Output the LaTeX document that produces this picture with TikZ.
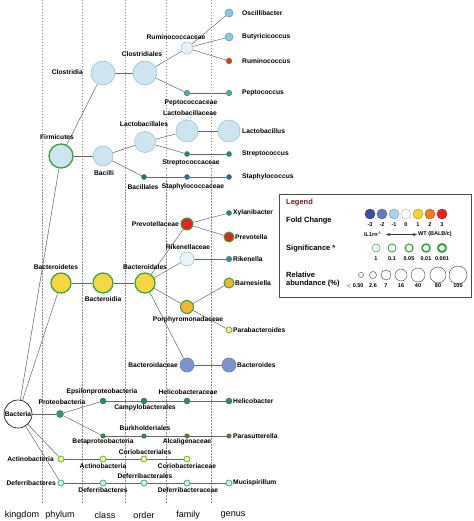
\documentclass[tikz,border=0pt]{standalone}
\usepackage{fontspec}
\setmainfont{Liberation Sans}
\usetikzlibrary{arrows.meta,calc,backgrounds}
\definecolor{lblue}{HTML}{CDE5F0}
\definecolor{lblueb}{HTML}{8FBFCB}
\definecolor{vlblue}{HTML}{E8F4F8}
\definecolor{mblue}{HTML}{8EC6DD}
\definecolor{mblueb}{HTML}{4E98A6}
\definecolor{tealc}{HTML}{56AA9F}
\definecolor{dgreen}{HTML}{2E8B62}
\definecolor{dteal}{HTML}{2E6F84}
\definecolor{yel}{HTML}{F8D640}
\definecolor{grn}{HTML}{36A23A}
\definecolor{redc}{HTML}{E52420}
\definecolor{orng}{HTML}{F5B52E}
\definecolor{lyel}{HTML}{F3F17E}
\definecolor{bluec}{HTML}{7C92CD}
\definecolor{blueb}{HTML}{6C84B0}
\definecolor{protc}{HTML}{3E8C99}
\definecolor{brn}{HTML}{7A6A3C}
\definecolor{actf}{HTML}{F6F29A}
\definecolor{actb}{HTML}{62B83A}
\definecolor{deff}{HTML}{D6EFEA}
\definecolor{defb}{HTML}{3FA57A}
\definecolor{fc1}{HTML}{3F4FA0}
\definecolor{fc2}{HTML}{6479C0}
\definecolor{fc3}{HTML}{A7D3EC}
\definecolor{fc5}{HTML}{F8D22A}
\definecolor{fc6}{HTML}{EE7D22}
\definecolor{fc7}{HTML}{E8231F}
\definecolor{legt}{HTML}{6B1E1E}
\tikzset{
  tx/.style={font=\fontsize{6.7}{7}\selectfont\bfseries, inner sep=0pt},
  gl/.style={tx, anchor=west},
  col/.style={font=\fontsize{9}{10}\selectfont, inner sep=0pt},
  lg/.style={font=\fontsize{7.5}{8.5}\selectfont\bfseries, inner sep=0pt, anchor=west, align=left},
  ln/.style={font=\fontsize{5.5}{6}\selectfont\bfseries, inner sep=0pt},
  tn/.style={circle, inner sep=0pt, minimum size=#1},
  edge/.style={draw=black!60, line width=0.5pt},
  vdash/.style={draw=black!45, dash pattern=on 1.5pt off 1.5pt, line width=0.4pt},
  lb/.style={fill=lblue, draw=lblueb, line width=0.5pt},
  vlb/.style={fill=vlblue, draw=lblueb, line width=0.5pt},
  mb/.style={fill=mblue, draw=mblueb, line width=0.5pt},
  yg/.style={fill=yel, draw=grn, line width=1.2pt},
}
\begin{document}
\begin{tikzpicture}[x=1pt, y=-1pt]
\useasboundingbox (0,0) rectangle (473,521);
\begin{scope}[on background layer]
\fill[white] (0,0) rectangle (473,521);
\foreach \xx in {42,82,125,166,211}
  \draw[vdash] (\xx,0) -- (\xx,503);
\end{scope}
% column labels
\node[col] (ckingdom) at (22,515) {kingdom};
\node[col] (cphylum) at (60,515) {phylum};
\node[col] (cclass) at (105,515) {class};
\node[col] (corder) at (144,515) {order};
\node[col] (cfamily) at (188,515) {family};
\node[col] (cgenus) at (233,515) {genus};

% ---- nodes ----
\node[tn=28pt, fill=white, draw=black, line width=0.6pt] (bact) at (18,414) {};
% Firmicutes branch
\node[tn=24pt, fill=lblue, draw=grn, line width=1.3pt] (firm) at (61,156) {};
\node[tn=24pt, lb] (clostridia) at (103,73) {};
\node[tn=24pt, lb] (clostridiales) at (145,73) {};
\node[tn=12pt, vlb] (rumin) at (187,48) {};
\node[tn=8pt, mb] (oscil) at (229,13) {};
\node[tn=8pt, mb] (butyr) at (229,37) {};
\node[tn=5.5pt, fill=redc!70!brown, draw=olive!80!black, line width=0.7pt] (rumcoc) at (229,61) {};
\node[tn=5.5pt, fill=tealc, draw=tealc!70!black, line width=0.4pt] (peptof) at (187,93) {};
\node[tn=5.5pt, fill=tealc, draw=tealc!70!black, line width=0.4pt] (peptog) at (229,93) {};
\node[tn=20pt, lb] (bacilli) at (103,156) {};
\node[tn=21pt, lb] (lactoo) at (145,142) {};
\node[tn=22pt, lb] (lactof) at (187,131) {};
\node[tn=22pt, lb] (lactog) at (229,131) {};
\node[tn=5pt, fill=dgreen, draw=dgreen!70!black, line width=0.3pt] (streptf) at (187,154) {};
\node[tn=5pt, fill=dgreen, draw=dgreen!70!black, line width=0.3pt] (streptg) at (229,154) {};
\node[tn=5pt, fill=dteal, draw=dteal!70!black, line width=0.3pt] (bacillales) at (144,177) {};
\node[tn=5pt, fill=dteal, draw=dteal!70!black, line width=0.3pt] (staphf) at (187,177) {};
\node[tn=5pt, fill=dteal, draw=dteal!70!black, line width=0.3pt] (staphg) at (229,177) {};
% Bacteroidetes branch
\node[tn=20pt, yg] (bactp) at (61,283) {};
\node[tn=20pt, yg] (bactc) at (103,283) {};
\node[tn=20pt, yg] (bacto) at (145,283) {};
\node[tn=12pt, fill=redc, draw=grn, line width=1pt] (prevf) at (187,224) {};
\node[tn=10pt, fill=redc, draw=grn, line width=1pt] (prevg) at (229,237) {};
\node[tn=5pt, fill=dgreen, draw=dgreen!70!black, line width=0.3pt] (xylan) at (229,213) {};
\node[tn=14pt, vlb] (riken) at (187,259) {};
\node[tn=5.5pt, fill=protc, draw=protc!70!black, line width=0.3pt] (rikeng) at (229,259) {};
\node[tn=13pt, fill=orng, draw=grn, line width=1pt] (porph) at (187,307) {};
\node[tn=10pt, fill=orng, draw=grn, line width=1pt] (barnes) at (229,283) {};
\node[tn=6pt, fill=lyel, draw=grn, line width=0.6pt] (parab) at (229,330) {};
\node[tn=14pt, fill=bluec, draw=blueb, line width=0.6pt] (bactf) at (187,365) {};
\node[tn=14pt, fill=bluec, draw=blueb, line width=0.6pt] (bactg) at (229,365) {};
% Proteobacteria
\node[tn=7pt, fill=protc, draw=grn, line width=0.6pt] (proteo) at (60,414) {};
\node[tn=6pt, fill=dgreen, draw=dgreen!70!black, line width=0.3pt] (epsil) at (103,401) {};
\node[tn=6pt, fill=dgreen, draw=dgreen!70!black, line width=0.3pt] (campy) at (144,401) {};
\node[tn=6pt, fill=dgreen, draw=dgreen!70!black, line width=0.3pt] (helicf) at (187,401) {};
\node[tn=6pt, fill=dgreen, draw=dgreen!70!black, line width=0.3pt] (helicg) at (229,401) {};
\node[tn=4.5pt, fill=dgreen!80!olive, draw=dgreen!60!black, line width=0.3pt] (betap) at (103,436) {};
\node[tn=4.5pt, fill=dgreen!80!olive, draw=dgreen!60!black, line width=0.3pt] (burk) at (144,436) {};
\node[tn=4.5pt, fill=brn, draw=brn!70!black, line width=0.3pt] (alcal) at (187,436) {};
\node[tn=4.5pt, fill=brn, draw=brn!70!black, line width=0.3pt] (paras) at (229,436) {};
% Actinobacteria
\node[tn=6pt, fill=actf, draw=actb, line width=0.8pt] (actp) at (61,459) {};
\node[tn=6pt, fill=actf, draw=actb, line width=0.8pt] (actc) at (103,459) {};
\node[tn=6pt, fill=actf, draw=actb, line width=0.8pt] (corio) at (144,459) {};
\node[tn=6pt, fill=actf, draw=actb, line width=0.8pt] (coriof) at (187,459) {};
% Deferribacteres
\node[tn=6pt, fill=deff, draw=defb, line width=0.7pt] (defp) at (61,483) {};
\node[tn=6pt, fill=deff, draw=defb, line width=0.7pt] (defc) at (103,483) {};
\node[tn=6pt, fill=deff, draw=defb, line width=0.7pt] (defo) at (144,483) {};
\node[tn=6pt, fill=deff, draw=defb, line width=0.7pt] (deff) at (187,483) {};
\node[tn=6pt, fill=deff, draw=defb, line width=0.7pt] (mucis) at (229,483) {};

% ---- edges ----
\begin{scope}[on background layer]
\foreach \a/\b in {bact/firm, bact/bactp, bact/proteo, bact/actp, bact/defp,
  firm/clostridia, firm/bacilli, clostridia/clostridiales, clostridiales/rumin, clostridiales/peptof,
  rumin/oscil, rumin/butyr, rumin/rumcoc, peptof/peptog,
  bacilli/lactoo, bacilli/bacillales, lactoo/lactof, lactoo/streptf, lactof/lactog, streptf/streptg,
  bacillales/staphf, staphf/staphg,
  bactp/bactc, bactc/bacto, bacto/prevf, bacto/riken, bacto/porph, bacto/bactf,
  prevf/xylan, prevf/prevg, riken/rikeng, porph/barnes, porph/parab, bactf/bactg,
  proteo/epsil, epsil/campy, campy/helicf, helicf/helicg,
  proteo/betap, betap/burk, burk/alcal, alcal/paras,
  actp/actc, actc/corio, corio/coriof,
  defp/defc, defc/defo, defo/deff, deff/mucis}
  \draw[edge] (\a) -- (\b);
\end{scope}

\node[tx] (lbact) at (18,414) {Bacteria};

% ---- labels ----
\node[tx] (lfirm) at (57,137) {Firmicutes};
\node[tx, anchor=east] (lclostridia) at (83,72) {Clostridia};
\node[tx] (lclostridiales) at (142,54) {Clostridiales};
\node[tx] (lrumin) at (176,37) {Ruminococcaceae};
\node[tx] (lpepto) at (191,103) {Peptococcaceae};
\node[tx] (llactof) at (190,113) {Lactobacillaceae};
\node[tx] (llactoo) at (144,124) {Lactobacillales};
\node[tx] (lstrept) at (191,163) {Streptococcaceae};
\node[tx] (lbacilli) at (104,173) {Bacilli};
\node[tx] (lbacillales) at (143,187) {Bacillales};
\node[tx] (lstaph) at (193,187) {Staphylococcaceae};
\node[tx, anchor=east] (lprev) at (179,224) {Prevotellaceae};
\node[tx] (lriken) at (188,247) {Rikenellaceae};
\node[tx] (lbactp) at (56,267) {Bacteroidetes};
\node[tx] (lbactc) at (103,299) {Bacteroidia};
\node[tx] (lbacto) at (145,267) {Bacteroidales};
\node[tx] (lporph) at (188,320) {Porphyromonadaceae};
\node[tx, anchor=east] (lbactf) at (178,365) {Bacteroidaceae};
\node[tx] (lproteo) at (62,402) {Proteobacteria};
\node[tx] (lepsil) at (102,392) {Epsilonproteobacteria};
\node[tx] (lcampy) at (145,408) {Campylobacterales};
\node[tx] (lhelic) at (188,392) {Helicobacteraceae};
\node[tx] (lburk) at (145,428) {Burkholderiales};
\node[tx] (lbetap) at (103,442) {Betaproteobacteria};
\node[tx] (lalcal) at (187,442) {Alcaligenaceae};
\node[tx, anchor=east] (lactp) at (54,459) {Actinobacteria};
\node[tx] (lcorio) at (145,452) {Coriobacteriales};
\node[tx] (lactc) at (103,466) {Actinobacteria};
\node[tx] (lcoriof) at (187,466) {Coriobacteriaceae};
\node[tx, anchor=east] (ldefp) at (56,483) {Deferribacteres};
\node[tx] (ldefo) at (145,476) {Deferribacterales};
\node[tx] (ldefc) at (103,490) {Deferribacteres};
\node[tx] (ldeff) at (188,490) {Deferribacteraceae};
% genus labels
\node[gl] (goscil) at (242,13) {Oscillibacter};
\node[gl] (gbutyr) at (242,37) {Butyricicoccus};
\node[gl] (grum) at (242,61) {Ruminococcus};
\node[gl] (gpep) at (242,93) {Peptococcus};
\node[gl] (glac) at (242,131) {Lactobacillus};
\node[gl] (gstr) at (242,154) {Streptococcus};
\node[gl] (gsta) at (242,177) {Staphylococcus};
\node[gl] (gxyl) at (233,213) {Xylanibacter};
\node[gl] (gprev) at (235,237) {Prevotella};
\node[gl] (grik) at (233,259) {Rikenella};
\node[gl] (gbarn) at (235,283) {Barnesiella};
\node[gl] (gpara) at (233,330) {Parabacteroides};
\node[gl] (gbact) at (237,365) {Bacteroides};
\node[gl] (ghel) at (233,401) {Helicobacter};
\node[gl] (gpars) at (233,436) {Parasutterella};
\node[gl] (gmuc) at (233,483) {Mucispirillum};

% ---- legend ----
\node[draw=black!70, line width=0.7pt, minimum width=192pt, minimum height=103pt, inner sep=0pt, anchor=north west] (legend) at (279,194) {};
\node[lg, text=legt] (lgtitle) at (286,203) {Legend};
\node[lg] (lgfold) at (286,221) {Fold Change};
\foreach \c/\v [count=\i] in {fc1/-3, fc2/-2, fc3/-1, white/0, fc5/1, fc6/2, fc7/3} {
  \node[tn=10pt, fill=\c, draw=\c!70!black, line width=0.4pt] (fc\i) at ({358+12*\i},214) {};
  \node[ln] (fcl\i) at ({358+12*\i},224.5) {\v};
}
\node[ln] (lgil) at (373,234) {IL1rn\textsuperscript{-/-}};
\node[ln, anchor=west] (lgwt) at (418,234.5) {WT (BALB/c)};
\coordinate (arl) at ($(lgil.east)+(4pt,0.5)$);
\coordinate (arr) at ($(lgwt.west)+(-1pt,0)$);
\draw[{Stealth[length=4pt,width=3pt]}-{Stealth[length=4pt,width=3pt]}, line width=1pt, black!80] (arl) -- (arr);
\node[lg] (lgsig) at (286,249) {Significance *};
\foreach \w/\v/\xx [count=\i] in {0.5/1/376, 0.8/0.1/392, 1.1/0.05/409, 1.5/0.01/426, 1.9/0.001/442} {
  \node[tn=8pt, draw=grn, line width=\w pt] (sg\i) at (\xx,248) {};
  \node[ln] (sgl\i) at (\xx,259) {\v};
}
\node[lg] (lgrel) at (286,279.5) {Relative\\abundance (\%)};
\foreach \r/\v/\xx/\lx [count=\i] in {2.5/{$<$\,0.50}/361/355, 3.5/2.6/373/373, 5/7/386/386, 6/16/401/401, 7/40/418/418, 8/80/438/438, 9/100/458/458} {
  \node[tn=2*\r pt, draw=black!75, line width=0.4pt] (ra\i) at (\xx,275) {};
  \node[ln] (ral\i) at (\lx,286) {\v};
}
\end{tikzpicture}
\end{document}
